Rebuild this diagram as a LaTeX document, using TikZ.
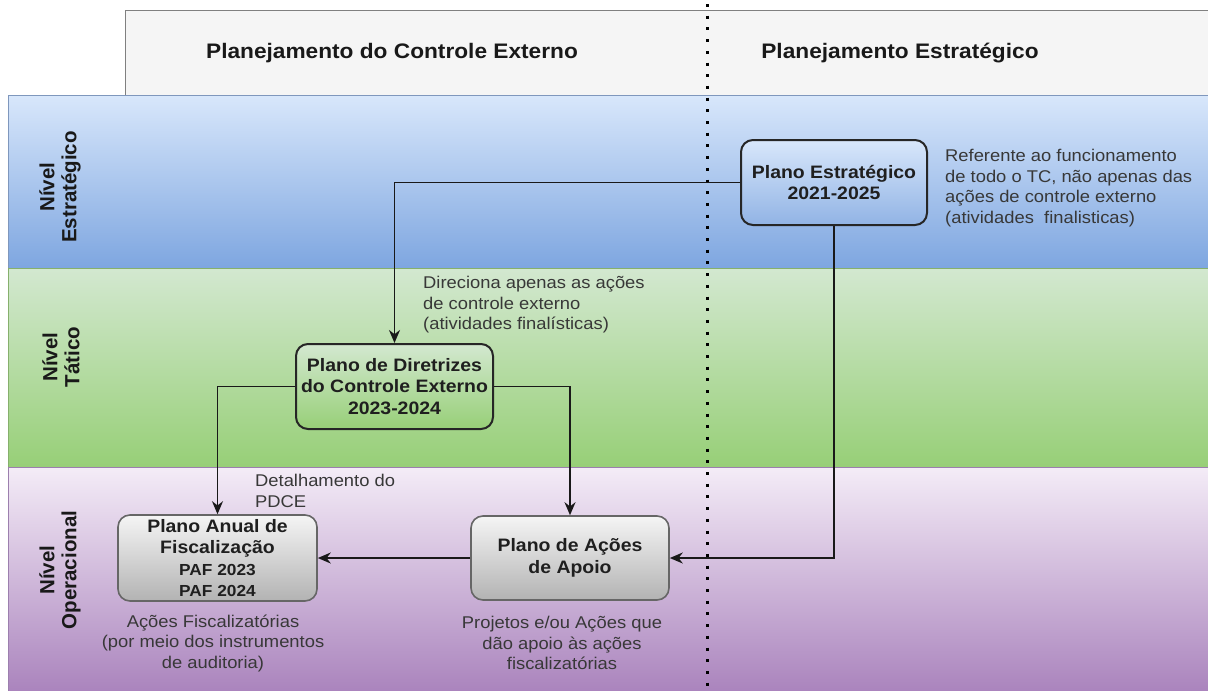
\documentclass[tikz,border=0pt]{standalone}
\usepackage{fontspec}
\setmainfont{Liberation Sans}[FakeStretch=1.08]
\newfontfamily\plainsans{Liberation Sans}
\usetikzlibrary{arrows.meta}

\definecolor{blueTop}{HTML}{D8E7FB}
\definecolor{blueBot}{HTML}{7EA6E0}
\definecolor{blueLine}{HTML}{7F97BD}
\definecolor{greenTop}{HTML}{D3E8D0}
\definecolor{greenBot}{HTML}{97CF77}
\definecolor{greenLine}{HTML}{86B06C}
\definecolor{lilacTop}{HTML}{F4ECF7}
\definecolor{lilacBot}{HTML}{A982BC}
\definecolor{lilacLine}{HTML}{9C7FAE}

\begin{document}
\begin{tikzpicture}[x=1pt, y=-1pt,
    plan/.style={draw=black!85, line width=2pt, rounded corners=12pt, align=center,
        font=\fontsize{18}{21.5}\selectfont\bfseries, text=black!88, inner sep=2pt},
    greyplan/.style={plan, draw=black!60, line width=1.6pt, top color=black!4, bottom color=black!30},
    note/.style={align=left, font=\fontsize{17}{20.5}\selectfont, text=black!78, inner sep=0pt},
    head/.style={font=\fontsize{21}{24}\selectfont\bfseries, text=black!90, inner sep=0pt},
    level/.style={rotate=90, align=center, font=\plainsans\fontsize{20.5}{22}\selectfont\bfseries,
        text=black!90, inner sep=0pt},
    flow/.style={draw=black!90, line width=1.9pt, -{Stealth[length=13pt, width=11pt]}},
    divider/.style={line width=3pt, dash pattern=on 3pt off 8.7pt}]

    \useasboundingbox (0,0) rectangle (1208,691);

    % header and level bands
    \draw[draw=black!50, fill=black!4] (125,10) rectangle (1212,95);
    \path[draw=blueLine, top color=blueTop, bottom color=blueBot] (8,95) rectangle (1212,268);
    \path[draw=greenLine, top color=greenTop, bottom color=greenBot] (8,268) rectangle (1212,467);
    \path[draw=lilacLine, top color=lilacTop, bottom color=lilacBot] (8,467) rectangle (1212,695);

    \node[head] (colCE) at (392,53) {Planejamento do Controle Externo};
    \node[head] (colPE) at (900,53) {Planejamento Estratégico};

    \node[level] (lvlStrat) at (60,187) {Nível\\Estratégico};
    \node[level] (lvlTat) at (61,357) {Nível\\Tático};
    \node[level] (lvlOper) at (60,570) {Nível\\Operacional};

    \draw[divider] (707,4) -- (707,691);

    % plans
    \node[plan, top color=blueTop, bottom color=blueBot!85!white, minimum width=186pt, minimum height=85pt]
        (strat) at (834,182.5) {Plano Estratégico\\2021-2025};
    \node[plan, top color=greenTop, bottom color=greenBot, minimum width=197pt, minimum height=85pt]
        (pdce) at (394.5,386.5) {Plano de Diretrizes\\do Controle Externo\\2023-2024};
    \node[greyplan, minimum width=199pt, minimum height=86pt]
        (paf) at (217.5,558) {Plano Anual de\\Fiscalização\\\fontsize{16}{19}\selectfont PAF 2023\\\fontsize{16}{19}\selectfont PAF 2024};
    \node[greyplan, minimum width=198pt, minimum height=84pt]
        (apoio) at (570,558) {Plano de Ações\\de Apoio};

    % notes
    \node[note, anchor=west] (noteStrat) at (945,188)
        {Referente ao funcionamento\\de todo o TC, não apenas das\\ações de controle externo\\(atividades\ \ finalisticas)};
    \node[note, anchor=west] (notePdce) at (423,305)
        {Direciona apenas as ações\\de controle externo\\(atividades finalísticas)};
    \node[note, anchor=west] (noteDet) at (255,491) {Detalhamento do\\PDCE};
    \node[note, align=center] (notePaf) at (213,643)
        {Ações Fiscalizatórias\\(por meio dos instrumentos\\de auditoria)};
    \node[note, align=center] (noteApoio) at (562,643)
        {Projetos e/ou Ações que\\dão apoio às ações\\fiscalizatórias};

    % links
    \draw[flow] (strat.west) -| (pdce.north);
    \draw[flow] (strat.south) |- (apoio.east);
    \draw[flow] (pdce.west) -| (paf.north);
    \draw[flow] (pdce.east) -| (apoio.north);
    \draw[flow] (apoio.west) -- (paf.east);

\end{tikzpicture}
\end{document}
